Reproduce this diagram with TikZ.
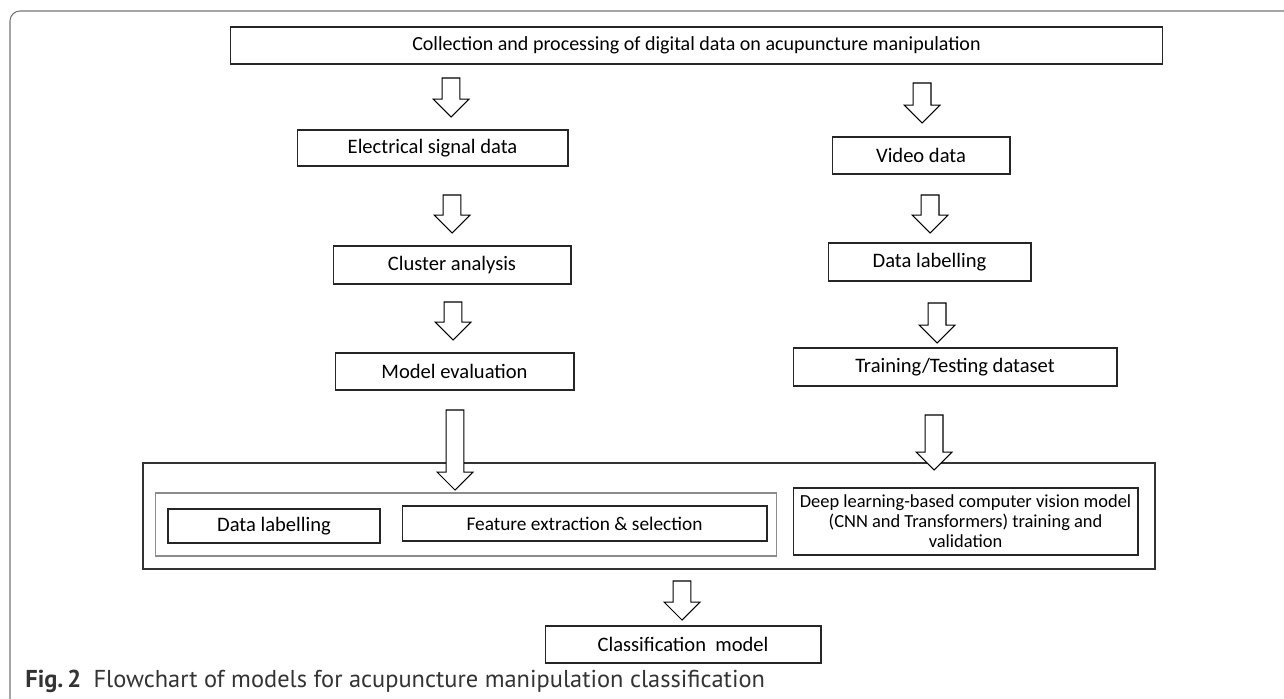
\documentclass[tikz,border=0pt]{standalone}
\usepackage{fontspec}
\setmainfont{Carlito}
\newfontfamily\capfont{PT Sans}
\usetikzlibrary{calc}
\tikzset{
  box/.style = {draw=black!85, line width=0.6pt, inner sep=2pt,
                font=\fontsize{11.7}{13}\selectfont},
  groupbox/.style = {draw=black!45, line width=0.6pt, inner sep=0},
  framebox/.style = {draw=black!80, line width=0.9pt, inner sep=0},
  pageframe/.style = {draw=black!55, line width=0.6pt},
  % hollow block arrow from start (top) to target (tip)
  blockarrow/.style = {draw=black, fill=white, line width=0.6pt,
    to path={let \p1=(\tikztostart), \p2=(\tikztotarget) in
      (\x1-5.1pt,\y1) -- (\x1+5.1pt,\y1) -- (\x1+5.1pt,\y2+10.2pt)
      -- (\x1+10.2pt,\y2+10.2pt) -- (\x1,\y2) -- (\x1-10.2pt,\y2+10.2pt)
      -- (\x1-5.1pt,\y2+10.2pt) -- cycle}},
}

\begin{document}
\begin{tikzpicture}[x=0.02cm, y=-0.02cm]
\useasboundingbox (0,0) rectangle (1284,699);
\draw[pageframe, rounded corners=5.7pt] (1284,11) -- (10,11) -- (10,699);

% top of the flow
\node[box, minimum width=18.66cm, minimum height=0.74cm, font=\fontsize{11.4}{13}\selectfont] (collect) at (696.5,45.5)
  {Collection and processing of digital data on acupuncture manipulation};

% electrical signal branch
\node[box, minimum width=5.42cm, minimum height=0.72cm] (elec) at (432.5,148) {Electrical signal data};
\node[box, minimum width=4.76cm, minimum height=0.76cm] (cluster) at (452,265) {Cluster analysis};
\node[box, minimum width=4.78cm, minimum height=0.74cm] (evalm) at (454.5,371.5) {Model evaluation};

% video branch
\node[box, minimum width=3.56cm, minimum height=0.74cm] (video) at (921,155.5) {Video data};
\node[box, minimum width=4.06cm, minimum height=0.76cm] (vlabel) at (929.5,262) {Data labelling};
\node[box, minimum width=6.48cm, minimum height=0.76cm] (trainset) at (955,367) {Training/Testing dataset};

% joint stage
\node[framebox, minimum width=20.24cm, minimum height=2.12cm] (joint) at (649,516) {};
\node[groupbox, minimum width=12.44cm, minimum height=1.26cm] (sigroup) at (466,524.5) {};
\node[box, minimum width=4.24cm, minimum height=0.68cm] (elabel) at (274,526) {Data labelling};
\node[box, minimum width=7.3cm, minimum height=0.70cm, font=\fontsize{11}{13}\selectfont] (feature) at (584.5,523.5)
  {Feature extraction \& selection};
\node[box, minimum width=6.9cm, minimum height=1.34cm, align=center,
      font=\fontsize{10.5}{11.4}\selectfont] (deep) at (965.5,521.5)
  {Deep learning-based computer vision model\\(CNN and Transformers) training and\\validation};

\node[box, minimum width=5.52cm, minimum height=0.74cm] (classif) at (683,644.5) {Classification\ \ model};

% arrow ends
\coordinate (a1t) at (451,78);  \coordinate (a1b) at (451,117);
\coordinate (a2t) at (922,83);  \coordinate (a2b) at (922,123);
\coordinate (a3t) at (452,195); \coordinate (a3b) at (452,233);
\coordinate (a4t) at (930,195); \coordinate (a4b) at (930,233);
\coordinate (a5t) at (453,302); \coordinate (a5b) at (453,340);
\coordinate (a6t) at (937,303); \coordinate (a6b) at (937,343);
\coordinate (a7t) at (455,410); \coordinate (a7b) at (455,490);
\coordinate (a8t) at (934,415); \coordinate (a8b) at (934,470);
\coordinate (a9t) at (682,581); \coordinate (a9b) at (682,620);

\draw[blockarrow] (a1t) to (a1b)  (a2t) to (a2b)
                  (a3t) to (a3b)  (a4t) to (a4b)
                  (a5t) to (a5b)  (a6t) to (a6b)
                  (a7t) to (a7b)  (a8t) to (a8b)
                  (a9t) to (a9b);

\node[anchor=west, inner sep=0, font=\capfont\fontsize{13.9}{15}\selectfont, text=black!80] (caption) at (25,681)
  {\textbf{Fig.\,2}\hspace{0.5em}Flowchart of models for acupuncture manipulation classification};
\end{tikzpicture}
\end{document}
